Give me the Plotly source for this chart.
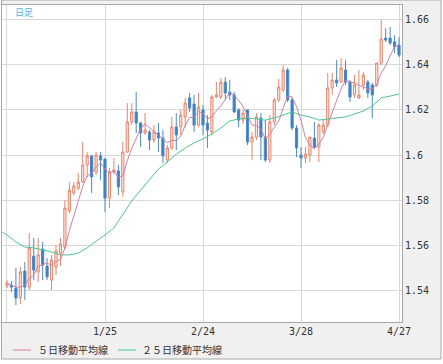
import plotly.graph_objects as go

# ---- data ----
open_ = [1.5422,1.5426,1.5413,1.5369,1.5488,1.5417,1.5554,1.5484,1.5585,1.5510,
         1.5448,1.5506,1.5567,1.5594,1.5753,1.5832,1.5854,1.5881,1.5956,1.5996,
         1.5925,1.5996,1.5982,1.5810,1.5925,1.5930,1.5837,1.6013,1.6146,1.6190,
         1.6141,1.6097,1.6102,1.6066,1.6097,1.6075,1.5978,1.6031,1.6124,1.6124,
         1.6168,1.6252,1.6225,1.6132,1.6199,1.6141,1.6102,1.6256,1.6256,1.6322,
         1.6278,1.6265,1.6199,1.6154,1.6199,1.6057,1.6079,1.6163,1.6079,1.5978,
         1.6146,1.6243,1.6287,1.6375,1.6243,1.6119,1.6000,1.5987,1.6000,1.6075,
         1.6035,1.6102,1.6132,1.6296,1.6331,1.6322,1.6375,1.6322,1.6265,1.6252,
         1.6309,1.6322,1.6309,1.6309,1.6406,1.6516,1.6516,1.6499,1.6485]
high = [1.5448,1.5444,1.5501,1.5506,1.5528,1.5656,1.5634,1.5634,1.5616,1.5545,
        1.5559,1.5603,1.5634,1.5801,1.5881,1.5881,1.5921,1.6057,1.6013,1.6000,
        1.6013,1.6013,1.5987,1.5943,1.5987,1.5956,1.6057,1.6229,1.6229,1.6278,
        1.6146,1.6185,1.6110,1.6132,1.6141,1.6110,1.6044,1.6168,1.6185,1.6199,
        1.6252,1.6274,1.6265,1.6274,1.6221,1.6176,1.6265,1.6322,1.6340,1.6344,
        1.6331,1.6278,1.6207,1.6199,1.6199,1.6102,1.6185,1.6185,1.6154,1.6176,
        1.6252,1.6335,1.6397,1.6384,1.6256,1.6132,1.6035,1.6035,1.6079,1.6146,
        1.6141,1.6154,1.6362,1.6362,1.6419,1.6428,1.6419,1.6331,1.6353,1.6375,
        1.6366,1.6331,1.6318,1.6406,1.6596,1.6560,1.6565,1.6529,1.6521]
low = [1.5413,1.5395,1.5338,1.5342,1.5360,1.5404,1.5448,1.5439,1.5448,1.5448,
       1.5404,1.5470,1.5510,1.5581,1.5744,1.5823,1.5845,1.5876,1.5903,1.5832,
       1.5912,1.5890,1.5748,1.5766,1.5916,1.5823,1.5815,1.6009,1.6132,1.6097,
       1.6035,1.6088,1.6022,1.6053,1.6013,1.5965,1.5965,1.6022,1.6022,1.6088,
       1.6124,1.6190,1.6102,1.6124,1.6088,1.6031,1.6088,1.6252,1.6247,1.6243,
       1.6243,1.6185,1.6124,1.6137,1.6044,1.5978,1.6066,1.5978,1.5969,1.5965,
       1.6132,1.6234,1.6278,1.6234,1.6110,1.5991,1.5943,1.5965,1.5969,1.6031,
       1.5969,1.6093,1.6124,1.6265,1.6300,1.6318,1.6309,1.6234,1.6252,1.6247,
       1.6287,1.6252,1.6163,1.6300,1.6397,1.6499,1.6485,1.6450,1.6432]
close = [1.5435,1.5417,1.5369,1.5484,1.5417,1.5589,1.5492,1.5559,1.5514,1.5462,
         1.5537,1.5576,1.5607,1.5766,1.5845,1.5863,1.5881,1.5956,1.5996,1.5903,
         1.6000,1.5978,1.5810,1.5925,1.5934,1.5859,1.6013,1.6146,1.6190,1.6141,
         1.6097,1.6110,1.6066,1.6102,1.6075,1.5996,1.6031,1.6124,1.6088,1.6176,
         1.6229,1.6207,1.6132,1.6212,1.6132,1.6110,1.6256,1.6265,1.6322,1.6274,
         1.6265,1.6190,1.6154,1.6185,1.6057,1.6079,1.6168,1.6079,1.5978,1.6146,
         1.6243,1.6300,1.6375,1.6243,1.6119,1.6031,1.5987,1.6004,1.6079,1.6035,
         1.6132,1.6132,1.6296,1.6331,1.6318,1.6384,1.6322,1.6256,1.6309,1.6265,
         1.6353,1.6274,1.6265,1.6406,1.6512,1.6507,1.6494,1.6477,1.6441]
ma5 = [1.5435,1.5426,1.5417,1.5417,1.5425,1.5455,1.5470,1.5508,1.5515,1.5523,
       1.5513,1.5530,1.5539,1.5590,1.5666,1.5732,1.5793,1.5862,1.5908,1.5920,
       1.5947,1.5966,1.5937,1.5923,1.5929,1.5901,1.5908,1.5975,1.6028,1.6070,
       1.6117,1.6137,1.6121,1.6103,1.6090,1.6070,1.6054,1.6065,1.6063,1.6083,
       1.6130,1.6165,1.6167,1.6192,1.6183,1.6159,1.6169,1.6195,1.6217,1.6245,
       1.6276,1.6263,1.6241,1.6214,1.6170,1.6133,1.6129,1.6114,1.6072,1.6090,
       1.6123,1.6149,1.6208,1.6261,1.6256,1.6214,1.6151,1.6077,1.6044,1.6027,
       1.6048,1.6077,1.6135,1.6185,1.6242,1.6292,1.6330,1.6322,1.6318,1.6307,
       1.6301,1.6291,1.6293,1.6312,1.6362,1.6393,1.6437,1.6479,1.6486]
ma25_day = [-1,0,2,4,6,8,10,12,14,16,18,20,22,24,26,28,30,32,34,36,38,40,42,44,
            46,48,50,52,54,56,58,60,62,64,66,68,70,72,74,76,78,80,82,84,86,88]
ma25 = [1.5660,1.5647,1.5616,1.5594,1.5590,1.5581,1.5572,1.5559,1.5559,1.5567,1.5590,
        1.5620,1.5647,1.5678,1.5735,1.5797,1.5845,1.5890,1.5938,1.5969,1.6004,
        1.6031,1.6053,1.6071,1.6093,1.6119,1.6150,1.6159,1.6163,1.6159,1.6154,
        1.6163,1.6176,1.6190,1.6176,1.6168,1.6154,1.6159,1.6163,1.6168,1.6181,
        1.6194,1.6216,1.6252,1.6260,1.6269]
day = list(range(len(close)))
tick_days = [0, 22, 44, 66, 88]
tick_labels = ["", "1/25", "2/24", "3/28", "4/27"]
legend_names = ["５日移動平均線", "２５日移動平均線"]
chart_label = "日足"

W, H = 443, 364
L, R, T, B = 2, 41, 5, 42
pw, ph = W - L - R, H - T - B

def px(x):
    return (x - L) / pw

def py(y):
    return (H - B - y) / ph

MONO = "DejaVu Sans Mono"
CJK = "Noto Sans CJK JP"
BORDER = "#a8a8a8"

fig = go.Figure()
fig.add_trace(go.Candlestick(
    x=day, open=open_, high=high, low=low, close=close,
    increasing=dict(line=dict(color="#e8846a", width=1), fillcolor="#fde6df"),
    decreasing=dict(line=dict(color="#4b8ac8", width=1), fillcolor="#3a7cc0"),
    whiskerwidth=0, showlegend=False, hoverinfo="skip"))
fig.add_trace(go.Scatter(x=ma25_day, y=ma25, mode="lines",
                         line=dict(color="#4cc48c", width=1), showlegend=False, hoverinfo="skip"))
fig.add_trace(go.Scatter(x=day, y=ma5, mode="lines",
                         line=dict(color="#cc80a4", width=1), showlegend=False, hoverinfo="skip"))

def rect(x0, y0, x1, y1, **kw):
    return dict(type="rect", xref="paper", yref="paper",
                x0=px(x0), x1=px(x1), y0=py(y1), y1=py(y0), **kw)

shapes = [
    rect(0, 359, 443, 364, fillcolor="white", line=dict(width=0), layer="above"),
    rect(441, 0, 443, 364, fillcolor="white", line=dict(width=0), layer="above"),
    rect(0, 0, 2, 364, fillcolor="white", line=dict(width=0), layer="above"),
    rect(1.5, 0, 441, 359, fillcolor="rgba(0,0,0,0)", line=dict(color=BORDER, width=1), layer="above"),
    dict(type="line", xref="paper", yref="paper", x0=px(13), x1=px(31), y0=py(350), y1=py(350),
         line=dict(color="#e07ca2", width=1)),
    dict(type="line", xref="paper", yref="paper", x0=px(118), x1=px(136), y0=py(350), y1=py(350),
         line=dict(color="#3cc890", width=1)),
]
annotations = [
    dict(text=chart_label, xref="paper", yref="paper", x=px(13), y=py(13), xanchor="left",
         yanchor="middle", showarrow=False, font=dict(family=CJK, size=9, color="#4db4e6")),
    dict(text=legend_names[0], xref="paper", yref="paper", x=px(36), y=py(349), xanchor="left",
         yanchor="middle", showarrow=False, font=dict(family=CJK, size=10, color="#333333")),
    dict(text=legend_names[1], xref="paper", yref="paper", x=px(140), y=py(349), xanchor="left",
         yanchor="middle", showarrow=False, font=dict(family=CJK, size=10, color="#333333")),
]

fig.update_layout(
    width=W, height=H, margin=dict(l=L, r=R, t=T, b=B),
    paper_bgcolor="#f0f0f0", plot_bgcolor="white",
    shapes=shapes, annotations=annotations, showlegend=False,
    xaxis=dict(range=[-1.12, 88.67], rangeslider=dict(visible=False),
               tickmode="array", tickvals=tick_days, ticktext=tick_labels,
               showgrid=True, gridcolor="#d8d8d8", gridwidth=1, zeroline=False,
               showline=True, linecolor=BORDER, linewidth=1, mirror=True,
               ticks="", tickfont=dict(family=MONO, size=10, color="#333333")),
    yaxis=dict(range=[1.5263, 1.6662], side="right", tick0=1.54, dtick=0.02,
               showgrid=True, gridcolor="#d8d8d8", gridwidth=1, zeroline=False,
               showline=True, linecolor=BORDER, linewidth=1, mirror=True,
               ticks="", tickfont=dict(family=MONO, size=10, color="#333333")),
)

fig.write_html("out.html", config={"displayModeBar": False, "staticPlot": True},
               post_script="document.body.style.margin='0px';")
